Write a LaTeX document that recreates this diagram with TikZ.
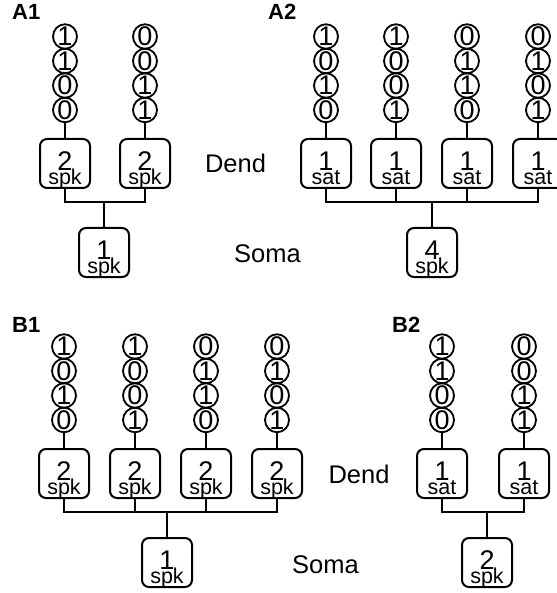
\documentclass[tikz,border=0pt]{standalone}
\usepackage{fontspec}
\setmainfont{Liberation Sans}
\usetikzlibrary{shapes.geometric,calc}
\tikzset{
  bit/.style={ellipse, draw, line width=1.8pt, minimum width=24pt, minimum height=24.5pt, inner sep=-5pt, font=\fontsize{27}{27}\selectfont},
  unit/.style={draw, line width=2pt, rounded corners=7pt, minimum width=50pt, minimum height=49pt, inner sep=0pt},
  num/.style={anchor=base, inner sep=0pt, font=\fontsize{27}{27}\selectfont},
  sub/.style={anchor=base, inner sep=0pt, font=\fontsize{21.5}{21.5}\selectfont},
  tag/.style={anchor=base west, inner sep=0pt, font=\fontsize{22}{22}\selectfont\bfseries},
  part/.style={anchor=base, inner sep=0pt, font=\fontsize{25.5}{25.5}\selectfont},
  wire/.style={line width=2pt},
}
\newcommand\bitcol[7]{%
  \node[bit] (#1a) at (#2,#3) {#4};
  \node[bit] (#1b) at (#2,#3+24.5) {#5};
  \node[bit] (#1c) at (#2,#3+49) {#6};
  \node[bit] (#1d) at (#2,#3+73.5) {#7};}
\newcommand\unitbox[5]{%
  \node[unit, anchor=north] (#1) at (#2,#3) {};
  \node[num] (#1n) at ($(#1.north)+(0,32.5)$) {#4};
  \node[sub] (#1s) at ($(#1.north)+(0,46.5)$) {#5};}
\begin{document}
\begin{tikzpicture}[x=1pt,y=-1pt]
\useasboundingbox (0,0) rectangle (556,593);
% ---------- labels ----------
\node[tag] (la1) at (12,20) {A1};
\node[tag] (la2) at (268,20) {A2};
\node[tag] (lb1) at (12,332) {B1};
\node[tag] (lb2) at (392,332) {B2};
\node[part] (adend) at (235.5,173) {Dend};
\node[part] (asoma) at (267.5,262) {Soma};
\node[part] (bdend) at (359,483) {Dend};
\node[part] (bsoma) at (325.5,573) {Soma};
% ---------- A1 ----------
\bitcol{a1c1}{65}{36.5}{1}{1}{0}{0}
\bitcol{a1c2}{145}{36.5}{0}{0}{1}{1}
\unitbox{a1d1}{65}{138}{2}{spk}
\unitbox{a1d2}{145}{138}{2}{spk}
\unitbox{a1s}{104}{227}{1}{spk}
\draw[wire] (a1c1d) -- (a1d1);
\draw[wire] (a1c2d) -- (a1d2);
\coordinate (a1j) at (104,202);
\draw[wire] (a1d1.south) |- (a1j) -| (a1d2.south);
\draw[wire] (a1j) -- (a1s.north);
% ---------- A2 ----------
\bitcol{a2c1}{326}{36.5}{1}{0}{1}{0}
\bitcol{a2c2}{396}{36.5}{1}{0}{0}{1}
\bitcol{a2c3}{467}{36.5}{0}{1}{1}{0}
\bitcol{a2c4}{538}{36.5}{0}{1}{0}{1}
\unitbox{a2d1}{326}{138}{1}{sat}
\unitbox{a2d2}{396}{138}{1}{sat}
\unitbox{a2d3}{467}{138}{1}{sat}
\unitbox{a2d4}{538}{138}{1}{sat}
\unitbox{a2s}{432}{227}{4}{spk}
\draw[wire] (a2c1d) -- (a2d1);
\draw[wire] (a2c2d) -- (a2d2);
\draw[wire] (a2c3d) -- (a2d3);
\draw[wire] (a2c4d) -- (a2d4);
\coordinate (a2j) at (432,202);
\draw[wire] (a2d1.south) |- (a2j) -| (a2d4.south);
\draw[wire] (a2d2.south) -- (a2d2.south |- a2j);
\draw[wire] (a2d3.south) -- (a2d3.south |- a2j);
\draw[wire] (a2j) -- (a2s.north);
% ---------- B1 ----------
\bitcol{b1c1}{64}{346.5}{1}{0}{1}{0}
\bitcol{b1c2}{135}{346.5}{1}{0}{0}{1}
\bitcol{b1c3}{206}{346.5}{0}{1}{1}{0}
\bitcol{b1c4}{277}{346.5}{0}{1}{0}{1}
\unitbox{b1d1}{64}{448}{2}{spk}
\unitbox{b1d2}{135}{448}{2}{spk}
\unitbox{b1d3}{206}{448}{2}{spk}
\unitbox{b1d4}{277}{448}{2}{spk}
\unitbox{b1s}{167}{537}{1}{spk}
\draw[wire] (b1c1d) -- (b1d1);
\draw[wire] (b1c2d) -- (b1d2);
\draw[wire] (b1c3d) -- (b1d3);
\draw[wire] (b1c4d) -- (b1d4);
\coordinate (b1j) at (167,512);
\draw[wire] (b1d1.south) |- (b1j) -| (b1d4.south);
\draw[wire] (b1d2.south) -- (b1d2.south |- b1j);
\draw[wire] (b1d3.south) -- (b1d3.south |- b1j);
\draw[wire] (b1j) -- (b1s.north);
% ---------- B2 ----------
\bitcol{b2c1}{442}{346.5}{1}{1}{0}{0}
\bitcol{b2c2}{524}{346.5}{0}{0}{1}{1}
\unitbox{b2d1}{442}{448}{1}{sat}
\unitbox{b2d2}{524}{448}{1}{sat}
\unitbox{b2s}{487}{537}{2}{spk}
\draw[wire] (b2c1d) -- (b2d1);
\draw[wire] (b2c2d) -- (b2d2);
\coordinate (b2j) at (487,512);
\draw[wire] (b2d1.south) |- (b2j) -| (b2d2.south);
\draw[wire] (b2j) -- (b2s.north);
\end{tikzpicture}
\end{document}
